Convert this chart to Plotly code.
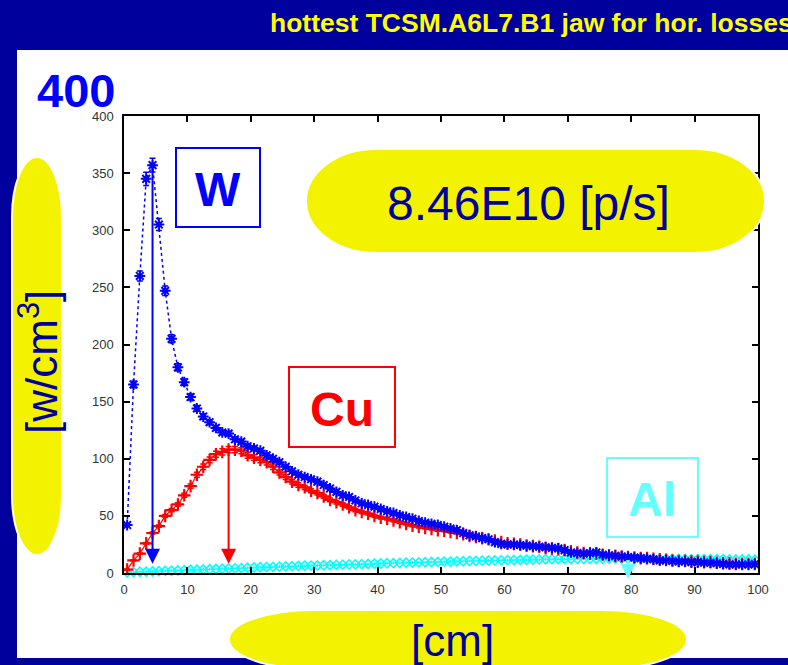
import plotly.graph_objects as go

# ---------------- data: power density per 1 cm bin along the jaw ----------------
bin_centres = [i + 0.5 for i in range(100)]          # [cm]

w_vals = [42, 165, 260, 345, 357, 305, 247, 205, 180, 167,
          154, 144, 137, 132, 127, 123, 122, 117, 115, 111,
          109, 107, 103, 100, 97, 93, 89, 86, 84, 82,
          80, 77, 74, 71, 68, 66.5, 63.5, 61, 59.5, 58,
          56, 54, 52.5, 50.5, 49, 47.5, 45.5, 44, 43, 42,
          40.5, 39, 37.5, 35, 33, 32, 30.5, 29.5, 27, 25.5,
          25, 25, 24.5, 24, 23.5, 23, 22.5, 22, 21.5, 20,
          18, 17.5, 17, 17.5, 18, 16, 15.5, 15, 14.5, 14,
          13.5, 13, 12.5, 12, 11, 11, 10.5, 10, 10, 9.5,
          9.5, 9, 9, 8.5, 8, 7.5, 7.5, 7.5, 7.5, 7.8]

cu_vals = [3, 11, 17, 26, 35, 41, 50, 55, 60, 68,
           76, 86, 93, 99, 104, 106, 108, 108, 107, 103,
           101, 99, 97, 93, 88, 84, 80, 77, 75, 72,
           70, 67, 64, 62, 60, 57.5, 55, 53.5, 52, 50,
           48.5, 47.5, 46, 44.5, 43, 41.5, 40.5, 39.5, 38.5, 37.5,
           37, 36, 35, 34, 32.5, 31.5, 30.5, 29.5, 28.5, 27,
           26, 25.5, 25, 24, 23.5, 23, 22, 21.5, 21, 20,
           19, 18, 17.5, 17, 17, 16, 15.5, 15, 14.5, 14,
           13.5, 13, 13, 12.5, 12, 11.5, 11, 10.5, 10.5, 10,
           10, 9.5, 9.5, 9, 8.5, 8.5, 8, 8, 8, 8]

al_vals = [0.7, 0.9, 1.1, 1.2, 1.4, 1.6, 1.8, 2.0, 2.2, 2.5,
           2.7, 2.9, 3.1, 3.3, 3.5, 3.7, 3.9, 4.1, 4.3, 4.6,
           4.8, 5.0, 5.2, 5.4, 5.6, 5.8, 6.0, 6.2, 6.3, 6.5,
           6.6, 6.8, 6.9, 7.1, 7.3, 7.4, 7.6, 7.8, 7.9, 8.1,
           8.3, 8.5, 8.6, 8.8, 9.0, 9.1, 9.3, 9.4, 9.6, 9.7,
           9.9, 10.0, 10.2, 10.3, 10.5, 10.6, 10.8, 10.9, 11.0, 11.1,
           11.3, 11.4, 11.5, 11.6, 11.8, 11.9, 12.0, 12.1, 12.2, 12.3,
           12.3, 12.4, 12.4, 12.5, 12.5, 12.5, 12.6, 12.6, 12.6, 12.7,
           12.6, 12.6, 12.6, 12.5, 12.5, 12.4, 12.4, 12.3, 12.3, 12.2,
           12.2, 12.1, 12.1, 12.0, 12.0, 11.9, 11.9, 11.8, 11.8, 11.7]

# arrows marking the hottest bin of each material: (bin index, arrow tip value)
arrow_bins = [4, 16, 79]
arrow_tips = [8, 8, -5]

x_ticks = [0, 10, 20, 30, 40, 50, 60, 70, 80, 90, 100]
y_ticks = [0, 50, 100, 150, 200, 250, 300, 350, 400]

title_text = "hottest TCSM.A6L7.B1 jaw for hor. losses"
rate_text = "8.46E10 [p/s]"

# ---------------- colours ----------------
BG_BLUE = "#00009C"
YELLOW = "#F3F300"
NAVY = "#00009A"
C_W = "#0000FF"
C_CU = "#FF0000"
C_AL = "#00FFFF"
C_AL_LABEL = "#66FFFF"

# ---------------- geometry helpers (pixel -> paper) ----------------
FIG_W, FIG_H = 788, 665
M_L, M_R, M_T, M_B = 124, 30, 116, 92
PW = FIG_W - M_L - M_R
PH = FIG_H - M_T - M_B


def px(X):
    return (X - M_L) / PW


def py(Y):
    return (FIG_H - M_B - Y) / PH


def pill_path(L, T, R, B, rx, ry):
    k = 0.5523
    pts = lambda X, Y: f"{px(X):.5f},{py(Y):.5f}"
    return (
        f"M {pts(L + rx, T)} L {pts(R - rx, T)} "
        f"C {pts(R - rx + k * rx, T)} {pts(R, T + ry - k * ry)} {pts(R, T + ry)} "
        f"L {pts(R, B - ry)} "
        f"C {pts(R, B - ry + k * ry)} {pts(R - rx + k * rx, B)} {pts(R - rx, B)} "
        f"L {pts(L + rx, B)} "
        f"C {pts(L + rx - k * rx, B)} {pts(L, B - ry + k * ry)} {pts(L, B - ry)} "
        f"L {pts(L, T + ry)} "
        f"C {pts(L, T + ry - k * ry)} {pts(L + rx - k * rx, T)} {pts(L + rx, T)} Z"
    )


fig = go.Figure()

# aluminium
fig.add_trace(go.Scatter(
    x=bin_centres, y=al_vals, mode="lines+markers", name="Al",
    line=dict(color=C_AL, width=1),
    marker=dict(symbol="diamond-open", size=7, color=C_AL, line=dict(width=1.6, color=C_AL)),
    error_y=dict(type="constant", value=1.3, color=C_AL, thickness=1.2, width=0),
    cliponaxis=False,
))

# copper
fig.add_trace(go.Scatter(
    x=bin_centres, y=cu_vals, mode="lines+markers", name="Cu",
    line=dict(color=C_CU, width=1.2),
    marker=dict(symbol="cross-thin-open", size=9, color=C_CU, line=dict(width=2.2, color=C_CU)),
    error_y=dict(type="percent", value=2.5, color=C_CU, thickness=1.5, width=3),
    error_x=dict(type="constant", value=0.5, color=C_CU, thickness=2, width=0),
))

# tungsten
fig.add_trace(go.Scatter(
    x=bin_centres, y=w_vals, mode="lines+markers", name="W",
    line=dict(color=C_W, width=1.5, dash="dot"),
    marker=dict(symbol="asterisk-open", size=9, color=C_W, line=dict(width=2, color=C_W)),
    error_y=dict(type="percent", value=1.7, color=C_W, thickness=1.5, width=3),
    error_x=dict(type="constant", value=0.45, color=C_W, thickness=2, width=0),
))

annotations = []

# arrows at the hottest bins
for b, tip, series, col in zip(arrow_bins, arrow_tips, [w_vals, cu_vals, al_vals],
                               [C_W, C_CU, C_AL_LABEL]):
    xb = bin_centres[b]
    annotations.append(dict(
        x=xb, y=tip, ax=xb, ay=series[b], xref="x", yref="y", axref="x", ayref="y",
        text="", showarrow=True, arrowhead=2, arrowsize=1.5, arrowwidth=2,
        arrowcolor=col, standoff=0, startstandoff=0,
    ))

shapes = [
    # white slide panel
    dict(type="rect", xref="paper", yref="paper", layer="below",
         x0=px(17), x1=px(800), y0=py(658), y1=py(50),
         fillcolor="white", line=dict(width=0)),
    # material label boxes
    dict(type="rect", xref="paper", yref="paper", layer="above",
         x0=px(176), x1=px(260), y0=py(227), y1=py(148),
         fillcolor="white", line=dict(color=C_W, width=2)),
    dict(type="rect", xref="paper", yref="paper", layer="above",
         x0=px(289), x1=px(395), y0=py(447), y1=py(367),
         fillcolor="white", line=dict(color=C_CU, width=2)),
    dict(type="rect", xref="paper", yref="paper", layer="above",
         x0=px(607), x1=px(698), y0=py(537), y1=py(458),
         fillcolor="white", line=dict(color=C_AL_LABEL, width=2)),
    # yellow call-outs
    dict(type="path", xref="paper", yref="paper", layer="above",
         path=pill_path(306, 149, 765, 253, 70, 52),
         fillcolor=YELLOW, line=dict(color="white", width=2)),
    dict(type="path", xref="paper", yref="paper", layer="above",
         path=pill_path(12, 157, 62, 555, 25, 60),
         fillcolor=YELLOW, line=dict(color="white", width=2)),
    dict(type="path", xref="paper", yref="paper", layer="above",
         path=pill_path(229, 610, 687, 669, 85, 29.5),
         fillcolor=YELLOW, line=dict(color="white", width=2)),
]


def label(text, X, Y, size, color, bold=False, angle=0, anchor="center"):
    return dict(
        text=f"<b>{text}</b>" if bold else text,
        x=px(X), y=py(Y), xref="paper", yref="paper",
        xanchor=anchor, yanchor="middle", showarrow=False, textangle=angle,
        font=dict(family="Liberation Sans, Arial, sans-serif", size=size, color=color),
    )


annotations += [
    label(title_text, 268, 23, 26.5, "#FFFF00", bold=True, anchor="left"),
    label("400", 76, 91, 47, C_W, bold=True),
    label("W", 218, 189, 48, C_W, bold=True),
    label("Cu", 342, 409, 48, C_CU, bold=True),
    label("Al", 652, 499, 48, C_AL_LABEL, bold=True),
    label(rate_text, 528, 203, 48, NAVY),
    label("[cm]", 452, 640, 44, NAVY),
    label("[w/cm<sup>3</sup>]", 38, 362, 44, NAVY, angle=-90),
]

axis_font = dict(family="Liberation Sans, Arial, sans-serif", size=13, color="#333333")

fig.update_layout(
    width=FIG_W, height=FIG_H, autosize=False,
    margin=dict(l=M_L, r=M_R, t=M_T, b=M_B, pad=0),
    paper_bgcolor=BG_BLUE, plot_bgcolor="rgba(0,0,0,0)",
    showlegend=False,
    shapes=shapes, annotations=annotations,
    xaxis=dict(range=[0, 100], tickvals=x_ticks, ticktext=[str(v) for v in x_ticks],
               ticks="inside", ticklen=6, tickwidth=1.5, tickcolor="black",
               showline=True, linecolor="black", linewidth=1.5, mirror="ticks",
               showgrid=False, zeroline=False, tickfont=axis_font,
               ticklabelstandoff=4),
    yaxis=dict(range=[0, 400], tickvals=y_ticks, ticktext=[str(v) for v in y_ticks],
               ticks="inside", ticklen=6, tickwidth=1.5, tickcolor="black",
               showline=True, linecolor="black", linewidth=1.5, mirror="ticks",
               showgrid=False, zeroline=False, tickfont=axis_font,
               ticklabelstandoff=6),
)

fig.write_html("out.html")
